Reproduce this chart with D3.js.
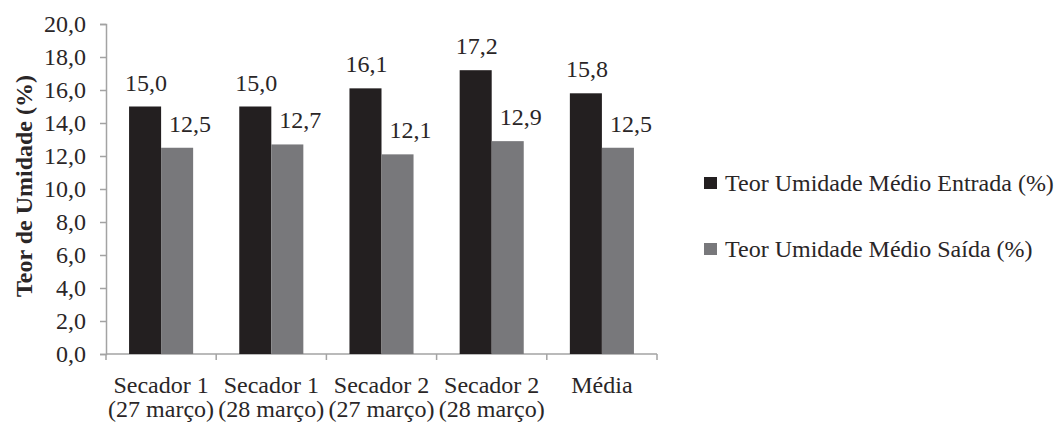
<!DOCTYPE html>
<html>
<head>
<meta charset="utf-8">
<script src="https://cdn.jsdelivr.net/npm/d3@7"></script>
<style>
  html, body { margin: 0; padding: 0; background: #fff; }
  svg { display: block; }
</style>
</head>
<body>
<svg id="chart" width="1062" height="425"></svg>
<script>
// Grupos de secagem (rótulos em duas linhas)
const categories = [
  ["Secador 1", "(27 março)"],
  ["Secador 1", "(28 março)"],
  ["Secador 2", "(27 março)"],
  ["Secador 2", "(28 março)"],
  ["Média"]
];
const seriesNames = ["Teor Umidade Médio Entrada (%)", "Teor Umidade Médio Saída (%)"];
const entrada = [15.0, 15.0, 16.1, 17.2, 15.8];
const saida = [12.5, 12.7, 12.1, 12.9, 12.5];
const yTicks = [0, 2, 4, 6, 8, 10, 12, 14, 16, 18, 20];
const colors = ["#231f20", "#78787b"];

const FONT = "Liberation Serif";
const TXT = "#2a2627";
const FS = 24;

const svg = d3.select("#chart");
const margin = { left: 106, right: 405, top: 24, bottom: 71 };
const W = 1062, H = 425;

const fmt = v => d3.format(".1f")(v).replace(".", ",");

const x0 = d3.scaleBand()
  .domain(d3.range(categories.length))
  .range([margin.left, W - margin.right])
  .paddingInner(0).paddingOuter(0);

const x1 = d3.scaleBand()
  .domain([0, 1])
  .range([0, x0.bandwidth()])
  .paddingInner(0).paddingOuter(0.72);

const y = d3.scaleLinear().domain([0, 20]).range([H - margin.bottom, margin.top]);

const axisColor = "#a3a3a3";

// Eixo Y
const yAxis = svg.append("g")
  .attr("transform", `translate(${margin.left},0)`)
  .call(d3.axisLeft(y).tickValues(yTicks).tickFormat(fmt).tickSize(6).tickPadding(14));
yAxis.attr("font-family", FONT).attr("font-size", FS);
yAxis.select(".domain").attr("stroke", axisColor).attr("stroke-width", 1.5);
yAxis.selectAll(".tick line").attr("stroke", axisColor).attr("stroke-width", 1.5);
yAxis.selectAll(".tick text")
  .attr("font-family", FONT)
  .attr("font-size", FS)
  .attr("fill", TXT);

// Eixo X (marcas nas divisões entre grupos)
const xBase = y(0);
svg.append("line")
  .attr("x1", x0.range()[0]).attr("x2", x0.range()[1])
  .attr("y1", xBase).attr("y2", xBase)
  .attr("stroke", axisColor).attr("stroke-width", 1.5);
const bounds = d3.range(categories.length + 1).map(i => i === categories.length ? x0.range()[1] : x0(i));
svg.selectAll(".xtick").data(bounds).join("line")
  .attr("class", "xtick")
  .attr("x1", d => d).attr("x2", d => d)
  .attr("y1", xBase).attr("y2", xBase + 6)
  .attr("stroke", axisColor).attr("stroke-width", 1.5);

// Rótulos das categorias
const catG = svg.selectAll(".cat").data(categories).join("text")
  .attr("class", "cat")
  .attr("text-anchor", "middle")
  .attr("font-family", FONT)
  .attr("font-size", FS)
  .attr("fill", TXT);
catG.each(function(lines, i) {
  const t = d3.select(this);
  lines.forEach((ln, k) => {
    t.append("tspan")
      .attr("x", x0(i) + x0.bandwidth() / 2)
      .attr("y", 393 + k * 24)
      .text(ln);
  });
});

// Barras
const data = categories.map((c, i) => [entrada[i], saida[i]]);
const groups = svg.selectAll(".grp").data(data).join("g")
  .attr("class", "grp")
  .attr("transform", (d, i) => `translate(${x0(i)},0)`);

groups.selectAll("rect").data(d => d).join("rect")
  .attr("x", (d, s) => x1(s))
  .attr("width", x1.bandwidth())
  .attr("y", d => y(d))
  .attr("height", d => y(0) - y(d))
  .attr("fill", (d, s) => colors[s]);

// Valores sobre as barras
groups.selectAll("text.val").data(d => d).join("text")
  .attr("class", "val")
  .attr("text-anchor", "middle")
  .attr("font-family", FONT)
  .attr("font-size", FS)
  .attr("fill", TXT)
  .attr("x", (d, s) => x1(s) + x1.bandwidth() / 2 + (s === 1 ? 13 : 1))
  .attr("y", d => y(d) - 16)
  .text(d => fmt(d));

// Título do eixo Y
svg.append("text")
  .attr("transform", `translate(32,186) rotate(-90)`)
  .attr("text-anchor", "middle")
  .attr("font-family", FONT)
  .attr("font-size", FS)
  .attr("font-weight", "bold")
  .attr("fill", TXT)
  .text("Teor de Umidade (%)");

// Legenda
const legend = svg.selectAll(".leg").data(seriesNames).join("g")
  .attr("class", "leg")
  .attr("transform", (d, i) => `translate(704,${177 + i * 66})`);
legend.append("rect")
  .attr("width", 13).attr("height", 12)
  .attr("fill", (d, i) => colors[i]);
legend.append("text")
  .attr("x", 21).attr("y", 14)
  .attr("font-family", FONT)
  .attr("font-size", FS)
  .attr("fill", TXT)
  .text(d => d);
</script>
</body>
</html>
